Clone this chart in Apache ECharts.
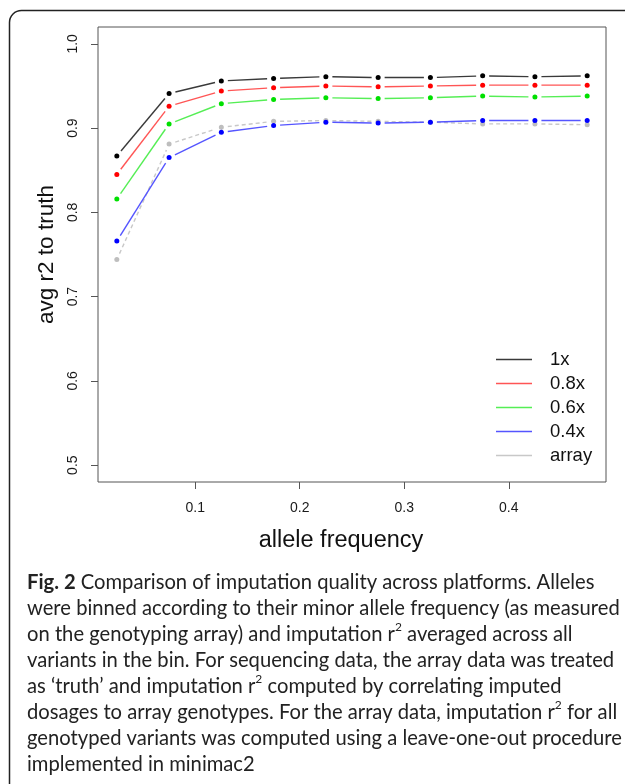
<!DOCTYPE html>
<html>
<head>
<meta charset="utf-8">
<script src="https://cdn.jsdelivr.net/npm/echarts@6/dist/echarts.min.js"></script>
<style>
html,body{margin:0;padding:0;background:#fff;}
#c{width:625px;height:784px;}
</style>
</head>
<body>
<div id="c"></div>
<script>
// ---- data ----
const alleleFreq = [0.025, 0.075, 0.125, 0.175, 0.225, 0.275, 0.325, 0.375, 0.425, 0.475];
const r2_1x    = [0.867, 0.941, 0.956, 0.959, 0.961, 0.960, 0.960, 0.962, 0.961, 0.962];
const r2_08x   = [0.845, 0.926, 0.944, 0.948, 0.950, 0.949, 0.950, 0.951, 0.951, 0.951];
const r2_06x   = [0.816, 0.905, 0.929, 0.934, 0.936, 0.935, 0.936, 0.938, 0.937, 0.938];
const r2_04x   = [0.766, 0.865, 0.895, 0.903, 0.907, 0.906, 0.907, 0.909, 0.909, 0.909];
const r2_array = [0.744, 0.881, 0.901, 0.908, 0.909, 0.908, 0.907, 0.905, 0.905, 0.904];
const seriesNames = ['1x', '0.8x', '0.6x', '0.4x', 'array'];
const xTicks = [0.1, 0.2, 0.3, 0.4];
const yTicks = [0.5, 0.6, 0.7, 0.8, 0.9, 1.0];
const yLimits = [0.5, 1.0];
const captionLines = [
  '{b|Fig. 2} Comparison of imputation quality across platforms. Alleles',
  'were binned according to their minor allele frequency (as measured',
  'on the genotyping array) and imputation r{s|2} averaged across all',
  'variants in the bin. For sequencing data, the array data was treated',
  'as \u2018truth\u2019 and imputation r{s|2} computed by correlating imputed',
  'dosages to array genotypes. For the array data, imputation r{s|2} for all',
  'genotyped variants was computed using a leave-one-out procedure',
  'implemented in minimac2'
];

// ---- styles ----
const pointColors = ['#000000', '#ff0000', '#00e000', '#0000ff', '#bebebe'];
const lineColors  = ['#3a3a3a', '#ff5555', '#55ee55', '#5555ff', '#c8c8c8'];
const dashed = [false, false, false, false, true];
const AX_FONT = 'Liberation Sans, Arial, Helvetica, sans-serif';
const CAP_FONT = 'Lato, "Open Sans", sans-serif';

// R-style axis expansion (4%)
const xr = alleleFreq[alleleFreq.length - 1] - alleleFreq[0];
const xMin = alleleFreq[0] - 0.04 * xr, xMax = alleleFreq[alleleFreq.length - 1] + 0.04 * xr;
const yr = yLimits[1] - yLimits[0];
const yMin = yLimits[0] - 0.04 * yr, yMax = yLimits[1] + 0.04 * yr;

const allValues = [r2_1x, r2_08x, r2_06x, r2_04x, r2_array];
const GAP = 6.5;

function makeSeries(idx) {
  const vals = allValues[idx];
  return {
    name: seriesNames[idx],
    type: 'custom',
    coordinateSystem: 'cartesian2d',
    itemStyle: { color: lineColors[idx] },
    z: 10 - idx,
    data: alleleFreq.map((x, i) => [x, vals[i]]),
    encode: { x: 0, y: 1 },
    renderItem: function (params, api) {
      const i = params.dataIndex;
      const p = api.coord([api.value(0), api.value(1)]);
      const children = [];
      if (i < alleleFreq.length - 1) {
        const q = api.coord([alleleFreq[i + 1], vals[i + 1]]);
        const dx = q[0] - p[0], dy = q[1] - p[1];
        const d = Math.sqrt(dx * dx + dy * dy);
        if (d > 2 * GAP) {
          const ux = dx / d, uy = dy / d;
          children.push({
            type: 'line',
            shape: { x1: p[0] + ux * GAP, y1: p[1] + uy * GAP, x2: q[0] - ux * GAP, y2: q[1] - uy * GAP },
            style: { stroke: lineColors[idx], lineWidth: 1.4, lineDash: dashed[idx] ? [4, 3] : null }
          });
        }
      }
      children.push({
        type: 'circle',
        shape: { cx: p[0], cy: p[1], r: 2.5 },
        style: { fill: pointColors[idx], stroke: null }
      });
      return { type: 'group', children: children };
    }
  };
}

const chart = echarts.init(document.getElementById('c'), null, { renderer: 'canvas' });
chart.setOption({
  animation: false,
  backgroundColor: '#ffffff',
  grid: {
    left: 98, top: 27, width: 508, height: 455,
    show: true, borderColor: '#555', borderWidth: 1, backgroundColor: 'transparent'
  },
  xAxis: {
    type: 'value', min: xMin, max: xMax,
    name: 'allele frequency', nameLocation: 'middle', nameGap: 47,
    nameTextStyle: { fontFamily: AX_FONT, fontSize: 23.5, color: '#111', padding: [0, 22, 0, 0] },
    axisLine: { show: false },
    splitLine: { show: false },
    axisTick: { show: true, inside: false, length: 7, customValues: xTicks, lineStyle: { color: '#555', width: 1 } },
    axisLabel: {
      customValues: xTicks, margin: 19,
      fontFamily: AX_FONT, fontSize: 14, color: '#1a1a1a',
      formatter: v => v.toFixed(1)
    }
  },
  yAxis: {
    type: 'value', min: yMin, max: yMax,
    name: 'avg r2 to truth', nameLocation: 'middle', nameGap: 40, nameRotate: 90,
    nameTextStyle: { fontFamily: AX_FONT, fontSize: 22.5, color: '#111' },
    axisLine: { show: false },
    splitLine: { show: false },
    axisTick: { show: true, inside: false, length: 7, customValues: yTicks, lineStyle: { color: '#555', width: 1 } },
    axisLabel: {
      customValues: yTicks, margin: 18, rotate: 90,
      fontFamily: AX_FONT, fontSize: 14, color: '#1a1a1a',
      formatter: v => v.toFixed(1)
    }
  },
  legend: {
    show: true, orient: 'vertical', left: 496, top: 350, padding: 0,
    selectedMode: false,
    icon: 'rect', itemWidth: 36, itemHeight: 1.6, itemGap: 5,
    data: seriesNames,
    textStyle: { fontFamily: AX_FONT, fontSize: 18.5, color: '#111', lineHeight: 18, padding: [0, 0, 0, 13] }
  },
  graphic: [
    {
      type: 'rect', silent: true,
      shape: { x: 9.5, y: 10.5, width: 800, height: 900, r: 12 },
      style: { fill: null, stroke: '#222', lineWidth: 1.5 }
    },
    {
      type: 'text', left: 27, top: 569, silent: true,
      style: {
        text: captionLines.join('\n'),
        fontFamily: CAP_FONT, fontSize: 20.2, lineHeight: 26, fill: '#222',
        rich: {
          b: { fontFamily: CAP_FONT, fontSize: 20.2, fontWeight: 'bold', lineHeight: 26, fill: '#222' },
          s: { fontFamily: CAP_FONT, fontSize: 12, lineHeight: 14, verticalAlign: 'top', fill: '#222' }
        }
      }
    }
  ],
  series: [0, 1, 2, 3, 4].map(makeSeries)
});
</script>
</body>
</html>
